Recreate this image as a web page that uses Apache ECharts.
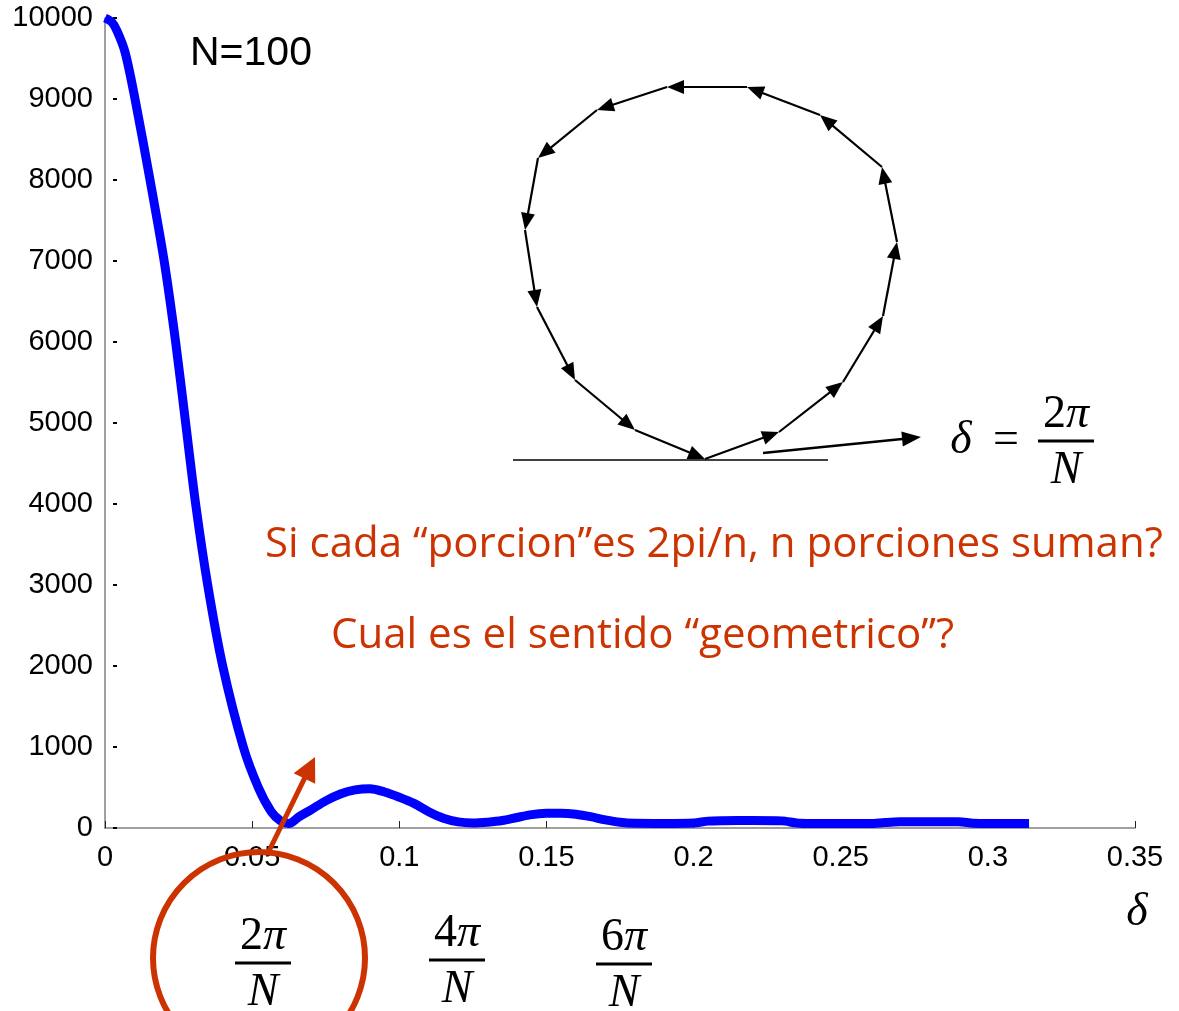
<!DOCTYPE html>
<html>
<head>
<meta charset="utf-8">
<title>Intensidad vs delta, N=100</title>
<script src="https://cdn.jsdelivr.net/npm/echarts@6/dist/echarts.min.js"></script>
<style>
html, body { margin: 0; padding: 0; background: #fff; }
#chart { width: 1179px; height: 1011px; }
</style>
</head>
<body>
<div id="chart"></div>
<script>
// delta (rad) and intensity
const delta = [0, 0.0023, 0.0041, 0.0068, 0.0102, 0.0153, 0.0201, 0.024, 0.0274, 0.0308,
  0.0349, 0.04, 0.047, 0.0521, 0.0565, 0.0596, 0.0625, 0.066, 0.07, 0.075,
  0.08, 0.085, 0.09, 0.095, 0.1, 0.105, 0.11, 0.115, 0.12, 0.125,
  0.13, 0.135, 0.14, 0.145, 0.15, 0.155, 0.16, 0.165, 0.17, 0.175,
  0.18, 0.19, 0.2, 0.205, 0.21, 0.22, 0.23, 0.235, 0.24, 0.25,
  0.26, 0.265, 0.27, 0.28, 0.29, 0.295, 0.3, 0.31, 0.314];
const intensity = [10000, 9950, 9840, 9580, 9000, 8000, 7000, 6000, 5000, 4000,
  3000, 2000, 1000, 500, 200, 90, 55, 140, 225, 335,
  420, 470, 485, 445, 380, 304, 200, 120, 75, 62,
  72, 92, 130, 165, 181, 183, 170, 140, 100, 70,
  58, 56, 62, 85, 90, 92, 88, 62, 56, 56,
  56, 68, 76, 77, 76, 60, 56, 56, 56];

const xTickLabels = ['0', '0.05', '0.1', '0.15', '0.2', '0.25', '0.3', '0.35'];
const yTickLabels = ['0', '1000', '2000', '3000', '4000', '5000', '6000', '7000', '8000', '9000', '10000'];
const fracNums = ['2', '4', '6'];

const red = '#cc3300';

// phasor sketch (pixel positions of the chain of vectors)
const phasor = [[705, 459], [779, 432], [843, 382], [883, 316], [897, 242], [882, 167],
  [820, 115], [747, 87], [667, 87], [597, 110], [538, 158], [525, 230],
  [537, 307], [575, 380], [635, 430], [705, 459]];

function head(x1, y1, x2, y2, len, half, color) {
  const dx = x2 - x1, dy = y2 - y1, L = Math.hypot(dx, dy);
  const ux = dx / L, uy = dy / L;
  const bx = x2 - ux * len, by = y2 - uy * len;
  return {
    type: 'polygon', z: 60,
    shape: { points: [[x2, y2], [bx - uy * half, by + ux * half], [bx + uy * half, by - ux * half]] },
    style: { fill: color }
  };
}

function arrow(x1, y1, x2, y2, color, w, len, half) {
  const L = Math.hypot(x2 - x1, y2 - y1);
  const ex = x2 - (x2 - x1) / L * len * 0.6, ey = y2 - (y2 - y1) / L * len * 0.6;
  return [
    { type: 'line', z: 60, shape: { x1: x1, y1: y1, x2: ex, y2: ey }, style: { stroke: color, lineWidth: w } },
    head(x1, y1, x2, y2, len, half, color)
  ];
}

const mathRich = {
  n: { fontFamily: 'Liberation Serif', fontSize: 46, fill: '#000' },
  i: { fontFamily: 'Liberation Serif', fontStyle: 'italic', fontSize: 46, fill: '#000' }
};

function frac(cx, barY, num, w) {
  return [
    { type: 'text', z: 60, x: cx, y: barY - 26,
      style: { text: '{n|' + num + '}{i|π}', rich: mathRich, align: 'center', verticalAlign: 'middle' } },
    { type: 'rect', z: 60, shape: { x: cx - w / 2, y: barY - 1.5, width: w, height: 3 }, style: { fill: '#000' } },
    { type: 'text', z: 60, x: cx, y: barY + 30,
      style: { text: '{i|N}', rich: mathRich, align: 'center', verticalAlign: 'middle' } }
  ];
}

let graphics = [];
for (let i = 0; i < phasor.length - 1; i++) {
  const a = phasor[i], b = phasor[i + 1];
  graphics = graphics.concat(arrow(a[0], a[1], b[0], b[1], '#000', 2.2, 17, 7));
}
graphics.push({ type: 'line', z: 60, shape: { x1: 513, y1: 460, x2: 828, y2: 460 }, style: { stroke: '#000', lineWidth: 1.5 } });
graphics = graphics.concat(arrow(763, 453, 921, 437, '#000', 2.5, 19, 7.5));

// delta = 2pi/N
graphics.push({ type: 'text', z: 60, x: 961, y: 441,
  style: { text: '{i|δ}', rich: mathRich, align: 'center', verticalAlign: 'middle' } });
graphics.push({ type: 'text', z: 60, x: 1006, y: 441,
  style: { text: '{n|=}', rich: mathRich, align: 'center', verticalAlign: 'middle' } });
graphics = graphics.concat(frac(1066, 441, '2', 56));

graphics.push({ type: 'text', z: 60, x: 190, y: 54,
  style: { text: 'N=100', fontFamily: 'Liberation Sans', fontSize: 41, fill: '#000', align: 'left', verticalAlign: 'middle' } });

graphics.push({ type: 'text', z: 60, x: 265, y: 545,
  style: { text: 'Si cada “porcion”es 2pi/n, n porciones suman?', fontFamily: 'Open Sans', fontSize: 42, fill: red, align: 'left', verticalAlign: 'middle' } });
graphics.push({ type: 'text', z: 60, x: 331, y: 636,
  style: { text: 'Cual es el sentido “geometrico”?', fontFamily: 'Open Sans', fontSize: 42, fill: red, align: 'left', verticalAlign: 'middle' } });

// bottom fractions and axis symbol
graphics = graphics.concat(frac(263, 963, fracNums[0], 56));
graphics = graphics.concat(frac(457, 960, fracNums[1], 56));
graphics = graphics.concat(frac(624, 964, fracNums[2], 56));
graphics.push({ type: 'text', z: 60, x: 1137, y: 913,
  style: { text: '{i|δ}', rich: mathRich, align: 'center', verticalAlign: 'middle' } });

// red circle + arrow
graphics.push({ type: 'circle', z: 70, shape: { cx: 259, cy: 958, r: 106 },
  style: { fill: 'none', stroke: red, lineWidth: 6 } });
graphics = graphics.concat(arrow(268, 853, 315, 757, red, 5, 24, 12));

const myChart = echarts.init(document.getElementById('chart'));
const option = {
  backgroundColor: '#fff',
  animation: false,
  grid: { left: 105, right: 44, top: 18, bottom: 183 },
  xAxis: {
    type: 'value', min: 0, max: 0.35, interval: 0.05,
    axisLine: { lineStyle: { color: '#808080', width: 1.5 } },
    axisTick: { inside: true, length: 7, lineStyle: { color: '#222', width: 1 } },
    axisLabel: {
      showMinLabel: true, showMaxLabel: true, margin: 15,
      color: '#000', fontFamily: 'Liberation Sans', fontSize: 29,
      formatter: (v, i) => xTickLabels[i]
    },
    splitLine: { show: false }
  },
  yAxis: [{
    type: 'value', min: 0, max: 10000, interval: 1000,
    axisLine: { show: true, lineStyle: { color: '#808080', width: 1.5 } },
    axisTick: { show: false },
    axisLabel: {
      margin: 12, color: '#000', fontFamily: 'Liberation Sans', fontSize: 29,
      formatter: (v, i) => yTickLabels[i]
    },
    splitLine: { show: false }
  }, {
    type: 'value', min: 0, max: 10000, interval: 1000, position: 'left', offset: -12,
    axisLine: { show: false },
    axisTick: { show: true, length: 4, lineStyle: { color: '#000', width: 2 } },
    axisLabel: { show: false },
    splitLine: { show: false }
  }],
  series: [{
    type: 'line',
    data: delta.map((d, i) => [d, intensity[i]]),
    showSymbol: false,
    smooth: 0.3,
    clip: false,
    lineStyle: { color: '#0000ff', width: 9 },
    z: 10
  }],
  graphic: graphics
};
myChart.setOption(option);
</script>
</body>
</html>
